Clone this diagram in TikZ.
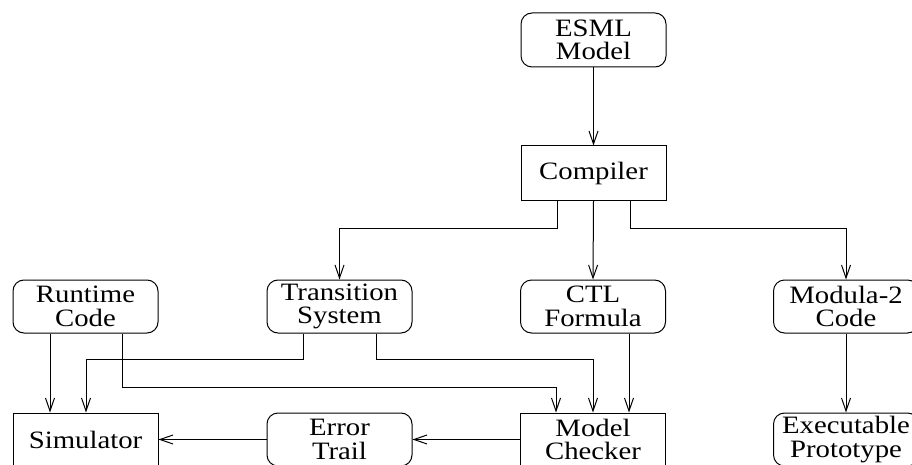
\documentclass[tikz,border=0pt]{standalone}
\usepackage{fontspec}
\setmainfont{Liberation Serif}[FakeStretch=1.15]
\usetikzlibrary{arrows.meta}
\begin{document}
\begin{tikzpicture}[x=1pt,y=-1pt,
  base/.style={draw, line width=1pt, minimum width=145pt, minimum height=53pt,
    inner sep=0pt, align=center, font=\fontsize{25}{23.5}\selectfont},
  roundbox/.style={base, rounded corners=11pt},
  sqbox/.style={base},
  arr/.style={line width=1pt, -{Straight Barb[length=13pt,width=9pt,line width=1pt]}}]
\useasboundingbox (0,0) rectangle (912,465);
% top of the chain
\node[roundbox, minimum height=54pt] (esml) at (593.5,40) {ESML\\Model};
\node[sqbox, minimum height=54pt] (comp) at (593.5,173) {Compiler};
% middle row
\node[roundbox] (rc)  at (85.5,306.5)  {Runtime\\Code};
\node[roundbox] (ts)  at (339.5,306.5) {Transition\\System};
\node[roundbox] (ctl) at (593,306.5)   {CTL\\Formula};
\node[roundbox] (mod) at (846,306.5)   {Modula-2\\Code};
% bottom row
\node[sqbox]    (sim) at (85.5,439.5)  {Simulator};
\node[roundbox] (et)  at (339.5,439.5) {Error\\Trail};
\node[sqbox]    (mc)  at (593,439.5)   {Model\\Checker};
\node[roundbox] (exe) at (846,439.5)   {Executable\\Prototype};
% compiler outputs
\draw[arr] (esml) -- (comp);
\draw[arr] ([xshift=-36.5pt]comp.south) -- ++(0,28) -| (ts.north);
\draw[arr] (comp.south) -- (ctl.north);
\draw[arr] ([xshift=36.5pt]comp.south) -- ++(0,28) -| (mod.north);
% inputs to simulator and model checker
\draw[arr] ([xshift=-35.5pt]rc.south) -- ([xshift=-35.5pt]sim.north);
\draw[arr] ([xshift=36.5pt]rc.south) -- ++(0,54) -| ([xshift=-37pt]mc.north);
\draw[arr] ([xshift=-36.5pt]ts.south) -- ++(0,26) -| ([xshift=0.5pt]sim.north);
\draw[arr] ([xshift=36.5pt]ts.south) -- ++(0,26) -| (mc.north);
\draw[arr] ([xshift=36pt]ctl.south) -- ([xshift=36pt]mc.north);
\draw[arr] (mod.south) -- (exe.north);
% error trail feedback
\draw[arr] (mc.west) -- (et.east);
\draw[arr] (et.west) -- (sim.east);
\end{tikzpicture}
\end{document}
